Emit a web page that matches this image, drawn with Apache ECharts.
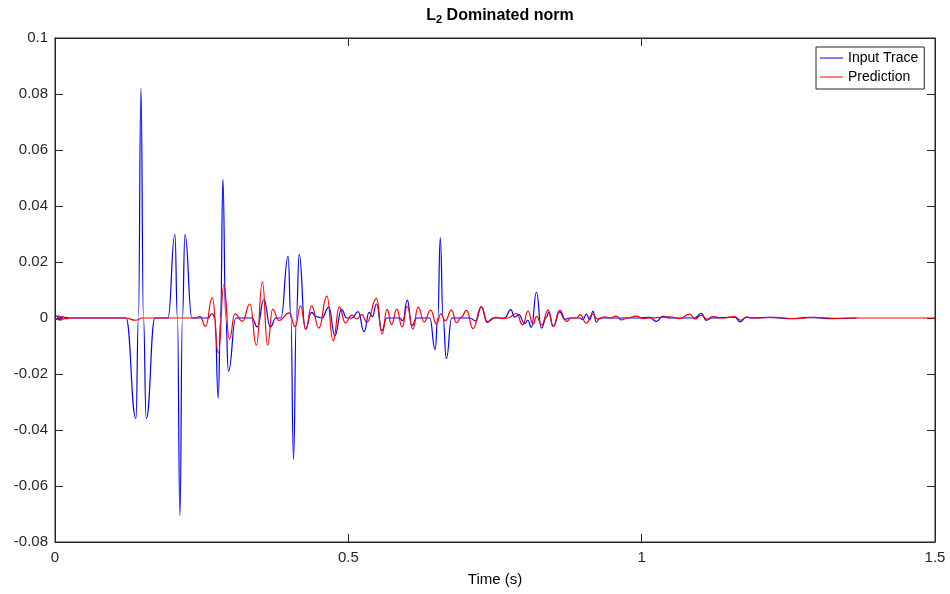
<!DOCTYPE html>
<html>
<head>
<meta charset="utf-8">
<script src="https://cdn.jsdelivr.net/npm/echarts@6/dist/echarts.min.js"></script>
<style>html,body{margin:0;padding:0;background:#fff;}#c{width:950px;height:594px;}</style>
</head>
<body>
<div id="c"></div>
<script>
var titleText = 'L{sub|2} Dominated norm';
var xLabel = 'Time (s)';
var seriesNames = ['Input Trace', 'Prediction'];

var blueT = [0,0.0034,0.0068,0.0102,0.0136,0.0187,0.0256,0.1210,0.1380,0.1422,0.1465,0.1508,0.1555,0.1704,
0.1925,0.2044,0.2087,0.2129,0.2172,0.2215,0.2334,0.2606,0.2680,0.2726,0.2782,0.2823,0.2862,0.2910,0.2956,0.3083,
0.3356,0.3450,0.3560,0.3671,0.3765,0.3850,0.3974,0.4020,0.4066,0.4114,0.4162,0.4267,0.4373,0.4446,0.4549,
0.4668,0.4770,0.4884,0.4974,0.5060,0.5167,0.5269,0.5354,0.5409,0.5480,0.5571,0.5656,0.5877,0.5928,0.6005,0.6082,0.6167,
0.6388,0.6479,0.6525,0.6567,0.6615,0.6670,0.6763,0.7070,0.7172,0.7266,0.7368,0.7462,0.7666,0.7768,0.7836,
0.7905,0.8007,0.8058,0.8121,0.8206,0.8291,0.8377,0.8416,0.8492,0.8603,0.8688,0.8773,0.8944,0.9000,0.9058,0.9114,0.9170,
0.9228,0.9285,0.9966,1.0136,1.0250,1.0363,1.0477,1.0903,1.1017,1.1102,1.1193,1.1584,1.1681,1.1784,1.1874,1.2181,1.2521,
1.2862,1.3203,1.3663];
var blueV = [0,0.0008,-0.0008,0.0005,-0.0004,0.0002,0,0,-0.0359,0,0.082,0,-0.0359,0,
0,0.0299,0,-0.0706,0,0.0299,0,0,0.0016,0,-0.0286,0,0.0495,0,-0.019,0,
0,-0.0032,0.0066,-0.0032,0,0,0.0221,0,-0.0505,0,0.0227,-0.004,0.002,0.0005,0,
0.0039,-0.0064,0.003,0,0,0.0023,-0.0049,0.002,0.0005,0.005,-0.0045,0,0,-0.001,0.0064,-0.0028,0,
0,-0.0112,0,0.0287,0,-0.0145,0,0,-0.001,0.004,-0.0016,0,0,0.003,0.0003,
0.0012,-0.002,-0.0008,-0.0033,0.0092,-0.0036,0.0003,0.002,-0.003,0.0022,-0.0005,0,0,-0.0006,0.0014,-0.0006,0.0024,
-0.0015,0,0,0.0002,-0.0012,0.0006,0,0,0.0017,-0.0008,0,0.0003,-0.0014,0.0003,0,0.0002,-0.0002,
0.0002,-0.0002,0];

var redT = [0,0.0034,0.0068,0.0102,0.0136,0.0187,0.0256,0.1193,0.1380,0.1482,0.2385,0.2470,0.2567,0.2680,0.2785,0.2879,0.2973,
0.3066,0.3194,0.3322,0.3433,0.3535,0.3624,0.3709,0.3816,0.3995,0.4094,0.4186,0.4276,0.4373,0.4497,0.4634,0.4741,0.4847,
0.4949,0.5055,0.5145,0.5230,0.5315,0.5480,0.5576,0.5661,0.5736,0.5826,0.5917,0.6005,0.6099,0.6189,0.6291,0.6402,0.6503,
0.6576,0.6652,0.6758,0.6843,0.6925,0.7014,0.7126,0.7266,0.7371,0.7513,0.7632,0.7717,0.7865,0.7973,0.8063,0.8148,0.8211,
0.8291,0.8407,0.8492,0.8603,0.8717,0.8807,0.8893,0.8952,0.9055,0.9165,0.9250,0.9370,0.9455,0.9566,0.9654,0.9750,0.9906,
1.0017,1.0136,1.0477,1.0647,1.0818,1.0911,1.1017,1.1107,1.1215,1.1380,1.1584,1.1687,1.1789,1.1925,1.2266,1.2606,1.2947,
1.3288,1.3714,1.5];
var redV = [0,-0.0006,0.0008,-0.0009,0.0006,-0.0003,0,0,-0.0008,0,0,0.0005,-0.003,0.0073,-0.0125,0.012,-0.0076,
0.0015,-0.0012,0.005,-0.0097,0.0128,-0.0097,0.0031,-0.0009,0.0018,-0.0031,0.0043,-0.004,0.0043,-0.0036,0.0078,-0.0082,0.004,
-0.0018,0.001,-0.0003,0.0012,-0.0015,0.007,-0.0057,0.0031,-0.0024,0.0031,-0.0032,0.0042,-0.004,0.0039,-0.0014,0.0028,-0.0022,
0.0015,-0.001,0.0028,-0.0017,0.0003,0.0027,-0.0038,0.004,-0.0013,0.0002,-0.0002,0,0.0016,-0.0025,0.0025,-0.0022,0.0006,
-0.0025,0.0028,-0.003,0.0027,-0.0012,0,0,0.0012,-0.0018,0.0014,-0.0004,0.0004,0,0.0007,-0.0007,0,0.0007,
-0.0002,0,0.0004,-0.0002,0.0014,-0.0004,0.001,-0.0004,0.0005,0,0.0005,-0.0008,0.0003,0,0.0002,-0.0002,0.0002,
-0.0001,0,0];

var xMin = 0, xMax = 1.5, xStep = 0.5;
var yMin = -0.08, yMax = 0.1, yStep = 0.02;

function pairs(t, v) { return t.map(function (x, i) { return [x, v[i]]; }); }

var axisColor = '#262626';
var font = "'Liberation Sans', Arial, Helvetica, sans-serif";

function axisCommon(extra) {
  var base = {
    type: 'value',
    axisLine: { show: true, onZero: false, lineStyle: { color: axisColor } },
    axisTick: { show: true, inside: true, length: 8, lineStyle: { color: axisColor } },
    splitLine: { show: false }
  };
  for (var k in extra) base[k] = extra[k];
  return base;
}

var chart = echarts.init(document.getElementById('c'), null, { renderer: 'canvas' });
chart.setOption({
  animation: false,
  backgroundColor: '#ffffff',
  textStyle: { fontFamily: font },
  title: {
    text: titleText,
    left: 495, top: 1, textAlign: 'center',
    textStyle: {
      fontFamily: font, fontSize: 16, fontWeight: 'bold', color: '#000',
      rich: { sub: { fontFamily: font, fontSize: 11, fontWeight: 'bold', color: '#000', verticalAlign: 'bottom', padding: [8, 0, 0, 0] } }
    }
  },
  legend: {
    orient: 'vertical', left: 816, top: 47,
    padding: [4, 6, 5, 4], itemGap: 5,
    itemWidth: 23, itemHeight: 14,
    borderColor: axisColor, borderWidth: 1, backgroundColor: '#fff',
    textStyle: { fontFamily: font, fontSize: 14, color: '#000' },
    data: [
      { name: seriesNames[0], icon: 'path://M0,7 L23,7 L23,8 L0,8 Z' },
      { name: seriesNames[1], icon: 'path://M0,7 L23,7 L23,8 L0,8 Z' }
    ]
  },
  grid: { left: 55, right: 15, top: 38, bottom: 52, show: true, borderColor: axisColor, borderWidth: 1, backgroundColor: '#fff' },
  xAxis: [
    axisCommon({ min: xMin, max: xMax, interval: xStep, position: 'bottom',
      name: xLabel, nameLocation: 'middle', nameGap: 30,
      nameTextStyle: { fontFamily: font, fontSize: 15, color: '#000' },
      axisLabel: { fontFamily: font, fontSize: 15, color: '#262626', margin: 8 } }),
    axisCommon({ min: xMin, max: xMax, interval: xStep, position: 'top', axisLabel: { show: false } })
  ],
  yAxis: [
    axisCommon({ min: yMin, max: yMax, interval: yStep, position: 'left',
      axisLabel: { fontFamily: font, fontSize: 15, color: '#262626', margin: 7 } }),
    axisCommon({ min: yMin, max: yMax, interval: yStep, position: 'right', axisLabel: { show: false } })
  ],
  series: [{
    name: seriesNames[0], type: 'line', xAxisIndex: 0, yAxisIndex: 0,
    data: pairs(blueT, blueV), showSymbol: false, smooth: 0.5, smoothMonotone: 'x',
    lineStyle: { color: '#0000ff', width: 1.2 }, itemStyle: { color: '#0000ff' }, z: 2
  }, {
    name: seriesNames[1], type: 'line', xAxisIndex: 0, yAxisIndex: 0,
    data: pairs(redT, redV), showSymbol: false, smooth: 0.5, smoothMonotone: 'x',
    lineStyle: { color: '#ff0000', width: 1.2 }, itemStyle: { color: '#ff0000' }, z: 3
  }]
});
</script>
</body>
</html>
